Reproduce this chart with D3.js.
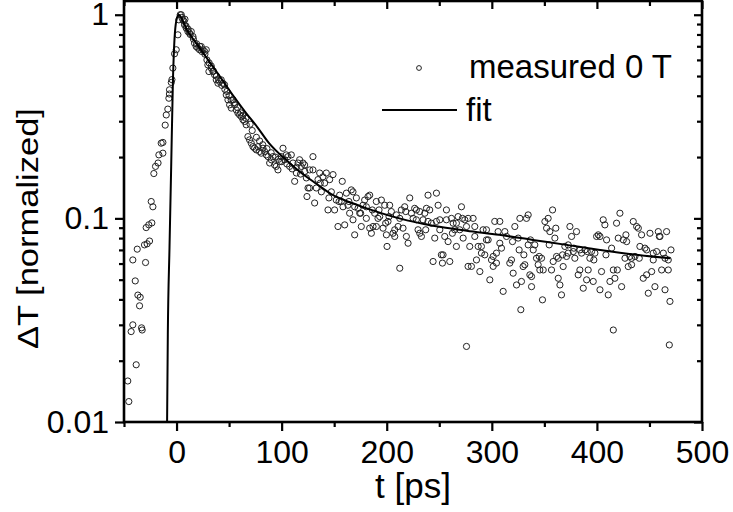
<!DOCTYPE html>
<html>
<head>
<meta charset="utf-8">
<script src="https://cdn.jsdelivr.net/npm/d3@7"></script>
<style>
  html, body { margin: 0; padding: 0; background: #ffffff; }
  svg { display: block; }
  text { font-family: "Liberation Sans", Arial, sans-serif; fill: #000; }
</style>
</head>
<body>
<svg id="chart" width="733" height="512"></svg>
<script>
// ---------------- data ----------------
const xMajorTicks = [0, 100, 200, 300, 400, 500];
const xMinorTicks = [-50, 50, 150, 250, 350, 450];
const yMajorTicks = [0.01, 0.1, 1];
const yMajorLabels = ["0.01", "0.1", "1"];
const yMinorTicks = [0.02, 0.03, 0.04, 0.05, 0.06, 0.07, 0.08, 0.09,
                     0.2, 0.3, 0.4, 0.5, 0.6, 0.7, 0.8, 0.9];
const xTitle = "t [ps]";
const yTitle = "\u0394T [normalized]";
const legendLabels = ["measured 0 T", "fit"];

// measured points: rising edge  [t (ps), ΔT normalized]
const measuredRise = [
  [-45.4,0.0126],[-46.4,0.0159],[-38.4,0.0191],[-43.2,0.0278],[-41.6,0.030],
  [-32.7,0.0283],[-33.3,0.029],[-35.2,0.0372],[-36.8,0.042],[-34.6,0.041],
  [-39.3,0.0493],[-41.6,0.0625],[-29.5,0.0607],[-37.4,0.0706],[-30.5,0.0741],
  [-25.7,0.0774],[-28,0.075],[-28.9,0.0901],[-26.4,0.093],[-23.5,0.095],
  [-24.1,0.121],[-22.5,0.114],[-21.6,0.166],[-20,0.180],[-17.6,0.187],
  [-16.8,0.205],[-13,0.209],[-14.6,0.234],[-13,0.236],[-10.8,0.287],
  [-9.8,0.322],[-8.3,0.344],[-7.3,0.389],[-6.8,0.408],[-6.7,0.428],
  [-5,0.465],[-4.4,0.48],[-3.5,0.547],[-1.9,0.643],[-0.3,0.673],
  [1.3,0.797],[2.2,0.944],[3.5,1.0],[4.5,1.0]
];
// measured points: fast decay (0 - 127 ps)
const measuredEarly = [
  [6.0,0.944],[7.6,0.892],[9.2,0.859],[10.8,0.827],[12.4,0.812],[14.0,0.827],
  [15.6,0.782],[17.1,0.725],[18.7,0.698],[20.3,0.686],[21.9,0.673],[23.5,0.698],
  [25.1,0.673],[26.7,0.660],[28.3,0.673],[28.9,0.600],[29.8,0.567],[30.8,0.526],
  [33.0,0.547],[34.6,0.526],[36.2,0.507],[37.8,0.479],[39.4,0.461],[41.0,0.470],
  [42.5,0.479],[44.1,0.461],[45.7,0.453],[47.3,0.404],[48.9,0.382],[50.5,0.361],
  [52.1,0.348],[53.7,0.382],[55.2,0.361],[56.8,0.341],[58.4,0.329],[60.0,0.322],
  [61.6,0.316],[63.2,0.305],[64.8,0.299],[66.3,0.288],[67.9,0.252],[69.5,0.243],
  [71.1,0.234],[72.7,0.225],[74.3,0.221],[75.9,0.217],[77.5,0.225],[79.0,0.213],
  [80.6,0.209],[82.2,0.221],[83.8,0.213],[85.4,0.205],[87.0,0.201],[88.6,0.187],
  [90.2,0.194],[91.7,0.201],[93.3,0.183],[94.9,0.180],[96.5,0.173],[98.1,0.190],
  [99.7,0.201],[101.3,0.221],[102.9,0.194],[104.4,0.205],[106.0,0.201],[107.6,0.180],
  [109.2,0.205],[110.8,0.187],[112.4,0.152],[114.0,0.167],[115.6,0.187],[117.1,0.194],
  [118.7,0.180],[120.3,0.187],[121.9,0.183],[123.5,0.158],[124.1,0.128],[125.1,0.141],
  [126.7,0.173],
  [5,0.97],[7,0.93],[8,0.95],[9,0.88],[11,0.85],[13,0.80],[16,0.76],[19,0.72],
  [22,0.70],[24,0.66],[27,0.64],[31,0.58],[33,0.56],[35,0.53],[38,0.50],[40,0.48],
  [43,0.45],[46,0.43],[48,0.42],[50,0.40],[52,0.38],[55,0.37],[58,0.35],[61,0.33],
  [63,0.32],[66,0.31],[70,0.29],[72,0.27],[76,0.25],[79,0.24],[82,0.23],[86,0.22],
  [90,0.21],[94,0.20],[97,0.195],[100,0.19],[105,0.185],[110,0.175],[114,0.178],
  [118,0.165],[122,0.17]
];
// measured points: 127 - 316 ps
const measuredMid = [
  [126.6,0.141],[129.8,0.201],[129.8,0.173],[131.4,0.119],[134.6,0.155],[136.2,0.167],
  [137.8,0.135],[139.3,0.160],[140.9,0.149],[142.5,0.167],[144.1,0.110],[145.7,0.155],
  [147.3,0.135],[148.9,0.164],[150.4,0.110],[152.0,0.123],[153.6,0.0912],[155.2,0.130],
  [156.8,0.121],[157.7,0.152],[158.4,0.114],[160.0,0.0929],[161.6,0.133],[163.1,0.116],
  [164.7,0.106],[166.3,0.138],[167.9,0.135],[167.9,0.0984],[169.5,0.0830],[171.1,0.126],
  [172.7,0.112],[174.3,0.106],[175.8,0.0912],[177.4,0.116],[179.0,0.123],[180.6,0.114],
  [182.2,0.128],[183.8,0.130],[183.8,0.0895],[185.4,0.0845],[187.0,0.0912],[188.5,0.106],
  [190.1,0.121],[191.7,0.100],[193.3,0.102],[194.9,0.123],[196.5,0.0895],[198.1,0.116],
  [199.7,0.0830],[200.3,0.0728],[201.2,0.0966],[202.8,0.116],[204.4,0.108],[206.0,0.0845],
  [207.6,0.0815],[209.2,0.104],[210.8,0.0912],[212.4,0.0569],[213.9,0.110],[215.5,0.0895],
  [217.1,0.114],[218.7,0.0815],[220.3,0.0755],[221.9,0.126],[223.5,0.106],[225.1,0.100],
  [226.6,0.112],[228.2,0.110],[229.8,0.0879],[231.4,0.0845],[233.0,0.0815],[234.6,0.0984],
  [236.2,0.106],[237.8,0.112],[239.3,0.130],[240.9,0.110],[242.5,0.0947],[244.1,0.0614],
  [245.7,0.0800],[247.3,0.133],[247.3,0.0966],[248.9,0.116],[250.5,0.0984],[252.0,0.0662],
  [253.0,0.0603],[253.6,0.0662],[255.2,0.0815],[256.8,0.110],[258.4,0.0769],[260.0,0.0614],
  [261.6,0.100],[263.2,0.0947],[264.7,0.0879],[266.3,0.0728],[267.9,0.102],[269.5,0.0879],
  [271.1,0.114],[272.7,0.0800],[274.3,0.0984],[275.9,0.0235],[277.4,0.0581],[279.0,0.0728],
  [280.6,0.0581],[282.2,0.100],[283.8,0.0912],[285.4,0.0625],[287.0,0.0728],[288.6,0.0548],
  [290.1,0.0675],[291.7,0.0879],[293.3,0.0662],[294.9,0.0879],[296.5,0.0784],[298.1,0.0499],
  [299.7,0.0625],[301.3,0.0650],[302.8,0.0966],[304.4,0.0603],[306.0,0.0861],[307.6,0.0966],
  [309.2,0.0714],[310.8,0.0438],[312.4,0.0861],[314.0,0.0815],
  [133,0.141],[136.8,0.149],[145,0.126],[154.6,0.121],[164,0.121],[169.5,0.114],
  [175.2,0.106],[180.6,0.100],[186.3,0.110],[190.1,0.0912],[192.7,0.110],[199,0.0947],
  [202.2,0.102],[207.6,0.0879],[212.4,0.100],[218.1,0.108],[228.2,0.0984],[231.4,0.108],
  [237.1,0.0879],[239.3,0.0966],[250.5,0.0879],[256.8,0.0984],[262.5,0.0845],[266.3,0.0947],
  [272,0.100],[275.9,0.0912],[277.4,0.100],[283.8,0.0815],[290.1,0.0728],[294.9,0.0784],
  [301.3,0.0581],[304.4,0.0675],[307.6,0.0755]
];
// measured points: 316 - 471 ps
const measuredLate = [
  [317.1,0.0603],[318.7,0.0625],[320.3,0.0538],[321.9,0.0912],[323.5,0.0471],[325.1,0.0800],
  [326.7,0.100],[327.6,0.0356],[328.2,0.0490],[329.8,0.0580],[331.4,0.0592],[333.0,0.100],
  [334.6,0.104],[334.6,0.0741],[336.2,0.0528],[337.8,0.0462],[337.8,0.0518],[339.4,0.0700],
  [340.9,0.0741],[342.5,0.0637],[344.1,0.0592],[345.7,0.0558],[347.3,0.0637],[348.2,0.0398],
  [348.9,0.0558],[350.5,0.0965],[352.1,0.0895],[353.6,0.100],[355.2,0.0861],[356.8,0.0558],
  [357.8,0.110],[358.4,0.0614],[360.0,0.0800],[360.9,0.0895],[361.6,0.0650],[363.2,0.0508],
  [364.8,0.0471],[366.3,0.0421],[367.9,0.0580],[369.5,0.0728],[371.1,0.0650],[372.7,0.0741],
  [374.3,0.0912],[375.9,0.0815],[377.5,0.0687],[379.0,0.0637],[380.6,0.0861],[382.2,0.0528],
  [383.8,0.0558],[385.4,0.0675],[387.0,0.0454],[388.6,0.0700],[390.2,0.0499],[391.7,0.0558],
  [393.3,0.0637],[394.9,0.0687],[396.5,0.0490],[398.1,0.0675],[399.7,0.0815],[401.3,0.0830],
  [402.9,0.0446],[404.4,0.0548],[406.0,0.0984],[407.6,0.0929],[409.2,0.0784],[410.8,0.0421],
  [412.4,0.0490],[414.0,0.0714],[415.6,0.0283],[417.1,0.0508],[418.7,0.0947],[420.3,0.0800],
  [421.9,0.106],[423.5,0.0462],[425.1,0.0784],[426.7,0.0637],[428.3,0.0769],[429.8,0.0580],
  [431.4,0.0650],[433.0,0.0592],[434.6,0.0965],[436.2,0.0650],[437.8,0.0912],[439.4,0.0895],
  [440.9,0.0728],[442.5,0.0830],[444.1,0.0508],[445.7,0.0714],[447.3,0.0528],[448.9,0.0429],
  [450.5,0.0845],[452.1,0.0548],[453.6,0.0625],[455.2,0.0462],[456.8,0.0687],[458.4,0.0861],
  [460.0,0.0815],[461.6,0.0558],[463.2,0.0675],[464.8,0.0446],[466.3,0.0861],[467.9,0.0625],
  [468.9,0.0239],[469.5,0.0391],[470.5,0.0700],
  [319.7,0.0769],[326.0,0.0700],[330.5,0.0662],[336.8,0.0784],[345.1,0.0650],[354.6,0.0741],
  [363.2,0.0637],[367.3,0.0662],[372.7,0.0675],[378.1,0.0714],[383.8,0.0700],[390.8,0.0687],
  [397.1,0.0625],[402.9,0.0815],[408.6,0.0662],[415.6,0.0558],[419.4,0.0558],[427.6,0.0830],
  [433.0,0.0637],[440.3,0.0637],[447.3,0.0700],[453.6,0.0675],[459.4,0.0815],[464.8,0.0637],
  [467.9,0.0558]
];
// fit curve
const fitCurve = [
  [-9,0.01],[-8.3,0.027],[-6.7,0.072],[-5.1,0.18],[-3.5,0.46],[-1.6,0.81],[0.5,0.97],
  [2,1.0],[10,0.84],[20,0.71],[30,0.60],[41,0.50],[54,0.40],[66,0.33],[77,0.28],
  [88,0.234],[104,0.194],[117,0.170],[133,0.148],[149,0.130],[165,0.120],[181,0.112],
  [212,0.100],[244,0.092],[276,0.087],[307,0.083],[339,0.0784],[371,0.0741],
  [403,0.0700],[435,0.0665],[470,0.0637]
];

// ---------------- drawing ----------------
const svg = d3.select("#chart");
const x = d3.scaleLinear().domain([-50, 500]).range([124, 702]);
const y = d3.scaleLog().domain([0.01, 1.168]).range([422, 1]);

const plot = svg.append("g");
svg.append("clipPath").attr("id", "clip")
  .append("rect").attr("x", x(-50)).attr("y", y(1.168))
  .attr("width", x(500) - x(-50)).attr("height", y(0.01) - y(1.168));

const measured = measuredRise.concat(measuredEarly, measuredMid, measuredLate);

plot.append("g").attr("clip-path", "url(#clip)")
  .selectAll("circle").data(measured).join("circle")
  .attr("cx", d => x(d[0])).attr("cy", d => y(d[1]))
  .attr("r", 3.1)
  .attr("fill", "none").attr("stroke", "#222").attr("stroke-width", 1);

const line = d3.line().x(d => x(d[0])).y(d => y(d[1])).curve(d3.curveMonotoneX);
plot.append("path").datum(fitCurve)
  .attr("clip-path", "url(#clip)")
  .attr("d", line).attr("fill", "none").attr("stroke", "#000").attr("stroke-width", 2);

// axes
function styleAxis(g) {
  g.select(".domain").remove();
  g.selectAll(".tick line").attr("stroke", "#000").attr("stroke-width", 2.2);
}
const fontSize = 32;

// bottom major
const gB = svg.append("g").attr("transform", `translate(0,${y(0.01)})`)
  .call(d3.axisBottom(x).tickValues(xMajorTicks).tickSize(9).tickFormat(d3.format("d")));
styleAxis(gB);
gB.selectAll(".tick text").attr("y", 41).attr("dy", 0)
  .style("font-size", fontSize + "px").style("font-family", '"Liberation Sans", Arial, sans-serif')
  .attr("fill", "#000");
const gBm = svg.append("g").attr("transform", `translate(0,${y(0.01)})`)
  .call(d3.axisBottom(x).tickValues(xMinorTicks).tickSize(5).tickFormat(""));
styleAxis(gBm);

// top (inward)
const gT = svg.append("g").attr("transform", `translate(0,${y(1.168)})`)
  .call(d3.axisTop(x).tickValues(xMajorTicks).tickSize(-8).tickFormat(""));
styleAxis(gT);
const gTm = svg.append("g").attr("transform", `translate(0,${y(1.168)})`)
  .call(d3.axisTop(x).tickValues(xMinorTicks).tickSize(-5).tickFormat(""));
styleAxis(gTm);

// left
const gL = svg.append("g").attr("transform", `translate(${x(-50)},0)`)
  .call(d3.axisLeft(y).tickValues(yMajorTicks).tickSize(9)
    .tickFormat((d, i) => yMajorLabels[i]));
styleAxis(gL);
gL.selectAll(".tick text").attr("x", -15).attr("dy", 0).attr("y", 10)
  .style("font-size", fontSize + "px").style("font-family", '"Liberation Sans", Arial, sans-serif')
  .attr("fill", "#000");
const gLm = svg.append("g").attr("transform", `translate(${x(-50)},0)`)
  .call(d3.axisLeft(y).tickValues(yMinorTicks).tickSize(5).tickFormat(""));
styleAxis(gLm);

// right (inward)
const gR = svg.append("g").attr("transform", `translate(${x(500)},0)`)
  .call(d3.axisRight(y).tickValues(yMajorTicks).tickSize(-8).tickFormat(""));
styleAxis(gR);
const gRm = svg.append("g").attr("transform", `translate(${x(500)},0)`)
  .call(d3.axisRight(y).tickValues(yMinorTicks).tickSize(-5).tickFormat(""));
styleAxis(gRm);

// frame
svg.append("rect")
  .attr("x", x(-50)).attr("y", y(1.168))
  .attr("width", x(500) - x(-50)).attr("height", y(0.01) - y(1.168))
  .attr("fill", "none").attr("stroke", "#000").attr("stroke-width", 2.6);

// axis titles
svg.append("text").text(xTitle)
  .attr("text-anchor", "middle")
  .attr("x", (x(-50) + x(500)) / 2).attr("y", 498)
  .style("font-size", "35px");
svg.append("text").text(yTitle)
  .attr("text-anchor", "middle")
  .attr("transform", `translate(38,${(y(0.01) + y(1.168)) / 2 + 17}) rotate(-90) scale(1.15,1)`)
  .style("font-size", "30px");

// legend
const leg = svg.append("g");
leg.append("circle").attr("cx", 419).attr("cy", 68).attr("r", 2.4)
  .attr("fill", "none").attr("stroke", "#222").attr("stroke-width", 1);
leg.append("text").text(legendLabels[0]).attr("x", 469).attr("y", 78)
  .style("font-size", "33px");
leg.append("line").attr("x1", 382).attr("x2", 457).attr("y1", 110).attr("y2", 110)
  .attr("stroke", "#000").attr("stroke-width", 2);
leg.append("text").text(legendLabels[1]).attr("x", 466).attr("y", 121)
  .style("font-size", "33px");
</script>
</body>
</html>
